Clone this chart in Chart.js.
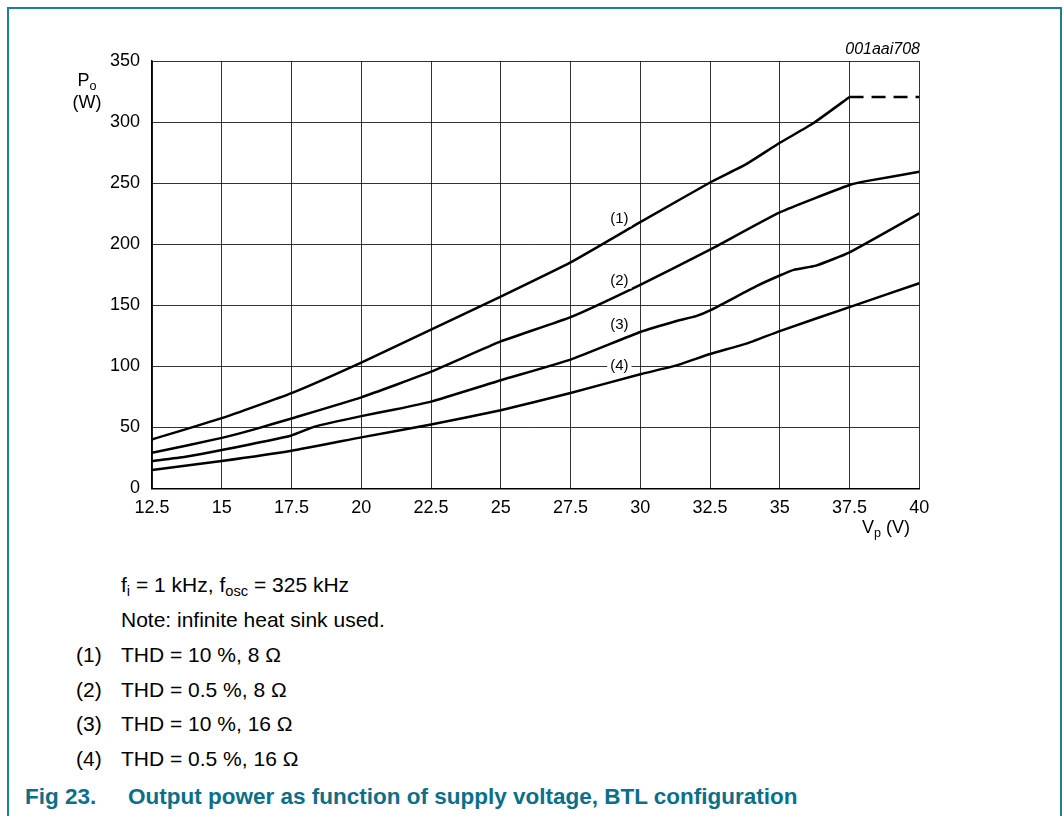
<!DOCTYPE html>
<html>
<head>
<meta charset="utf-8">
<script src="https://cdn.jsdelivr.net/npm/chart.js@4.4.1/dist/chart.umd.min.js"></script>
<style>
  body { margin: 0; background: #fff; font-family: "Liberation Sans", Arial, sans-serif; color: #000; }
  #wrap { position: relative; width: 1063px; height: 816px; overflow: hidden; }
  #frame { position: absolute; left: 7px; top: 7px; width: 1055px; height: 830px; border: 2px solid #1f7f98; border-bottom: none; box-sizing: border-box; }
  canvas { position: absolute; left: 0; top: 0; }
  .t { position: absolute; white-space: nowrap; line-height: 1; }
  .t sub { font-size: 70%; vertical-align: -0.3em; line-height: 0; }
  .note { font-size: 21px; }
  .cap { font-size: 22.5px; font-weight: bold; color: #0c6f88; }
</style>
</head>
<body>
<div id="wrap">
  <div id="frame"></div>
  <canvas id="powerChart" width="1063" height="560"></canvas>

  <div class="t" style="left:70px;width:34px;text-align:center;top:71px;font-size:18px;">P<sub>o</sub></div>
  <div class="t" style="left:70px;width:34px;text-align:center;top:93px;font-size:18px;">(W)</div>
  <div class="t" style="left:862px;top:518px;font-size:18px;">V<sub>p</sub> (V)</div>
  <div class="t" style="right:143px;top:41px;font-size:16px;font-style:italic;">001aai708</div>

  <div class="t note" style="left:121px;top:574px;">f<sub>i</sub> = 1 kHz, f<sub>osc</sub> = 325 kHz</div>
  <div class="t note" style="left:121px;top:609px;">Note: infinite heat sink used.</div>
  <div class="t note" style="left:76px;top:644px;">(1)</div>
  <div class="t note" style="left:121px;top:644px;">THD = 10 %, 8 Ω</div>
  <div class="t note" style="left:76px;top:679px;">(2)</div>
  <div class="t note" style="left:121px;top:679px;">THD = 0.5 %, 8 Ω</div>
  <div class="t note" style="left:76px;top:713px;">(3)</div>
  <div class="t note" style="left:121px;top:713px;">THD = 10 %, 16 Ω</div>
  <div class="t note" style="left:76px;top:748px;">(4)</div>
  <div class="t note" style="left:121px;top:748px;">THD = 0.5 %, 16 Ω</div>

  <div class="t cap" style="left:25px;top:786px;">Fig 23.</div>
  <div class="t cap" style="left:128px;top:786px;">Output power as function of supply voltage, BTL configuration</div>
</div>

<script>
// supply voltage (V) and output power (W)
const vp1 = [12.5, 15, 17.5, 20, 22.5, 25, 27.5, 30, 32.5, 33.8, 35, 36.2, 37.5];
const po1 = [40, 57.5, 78, 103, 130, 157, 185, 218, 250.5, 265.5, 283, 299, 320.5];

// (1) beyond 37.5 V is only dashed
const vp1Dash = [37.5, 40];
const po1Dash = [320.5, 320.5];

const vp2 = [12.5, 15, 16.2, 17.5, 20, 22.5, 25, 27.5, 30, 32.5, 35, 37.5, 38.2, 40];
const po2 = [29, 41.3, 48.5, 57.2, 74.5, 95.5, 120.3, 140.2, 166.7, 195.5, 226, 248.4, 252, 259.2];

const vp3 = [12.5, 13.7, 15, 17.5, 18.3, 20, 21.2, 22.5, 25, 27.5, 30, 31.3, 32, 32.5, 34.2, 35, 35.5, 36.3, 37.5, 40];
const po3 = [22.3, 25.8, 31.3, 43.3, 50.3, 59.1, 64.5, 71, 88.5, 105.4, 128, 137, 141, 145.7, 166, 174.3, 178.9, 182.4, 193.3, 225.2];

const vp4 = [12.5, 15, 17.5, 20, 22.5, 25, 27.5, 30, 31.3, 32.5, 33.8, 35, 37.5, 40];
const po4 = [15, 22.3, 30.7, 41.7, 52.3, 64, 78.1, 93.4, 100.7, 110, 118.5, 128.8, 148.4, 168];

// curve tags inside the plot
const curveLabels = ['(1)', '(2)', '(3)', '(4)'];
const labelVp = [29.25, 29.25, 29.25, 29.25];
const labelPo = [221, 170, 134.2, 100];

const toPoints = (xs, ys) => xs.map((x, i) => ({ x: x, y: ys[i] }));

const lineStyle = {
  borderColor: '#000',
  borderWidth: 2.5,
  pointRadius: 0,
  tension: 0.15,
  fill: false
};

const curveTags = {
  id: 'curveTags',
  afterDatasetsDraw(chart) {
    const ctx = chart.ctx;
    const xs = chart.scales.x;
    const ys = chart.scales.y;
    ctx.save();
    ctx.font = '15px "Liberation Sans", Arial, sans-serif';
    ctx.textAlign = 'center';
    ctx.textBaseline = 'middle';
    curveLabels.forEach((txt, i) => {
      const px = xs.getPixelForValue(labelVp[i]);
      const py = ys.getPixelForValue(labelPo[i]);
      const w = ctx.measureText(txt).width + 6;
      ctx.fillStyle = '#fff';
      ctx.fillRect(px - w / 2, py - 8, w, 16);
      ctx.fillStyle = '#000';
      ctx.fillText(txt, px, py);
    });
    ctx.restore();
  }
};

const ctx = document.getElementById('powerChart').getContext('2d');
new Chart(ctx, {
  type: 'line',
  data: {
    datasets: [
      Object.assign({ data: toPoints(vp1, po1) }, lineStyle),
      Object.assign({ data: toPoints(vp1Dash, po1Dash), borderDash: [14, 8] }, lineStyle, { tension: 0 }),
      Object.assign({ data: toPoints(vp2, po2) }, lineStyle),
      Object.assign({ data: toPoints(vp3, po3) }, lineStyle),
      Object.assign({ data: toPoints(vp4, po4) }, lineStyle)
    ]
  },
  options: {
    responsive: false,
    animation: false,
    layout: { padding: { left: 0, top: 61, right: 143.7, bottom: 31.7 } },
    plugins: {
      legend: { display: false },
      tooltip: { enabled: false }
    },
    scales: {
      x: {
        type: 'linear',
        min: 12.5,
        max: 40,
        afterFit: (s) => { s.height = 40; },
        ticks: {
          stepSize: 2.5,
          padding: 9,
          color: '#000',
          font: { family: '"Liberation Sans", Arial, sans-serif', size: 18 },
          callback: (v) => String(v)
        },
        grid: { color: 'rgba(0,0,0,0.8)', lineWidth: 1, drawTicks: false },
        border: { color: '#000', width: 1.5 }
      },
      y: {
        min: 0,
        max: 350,
        afterFit: (s) => { s.width = 152; },
        ticks: {
          stepSize: 50,
          padding: 12,
          color: '#000',
          font: { family: '"Liberation Sans", Arial, sans-serif', size: 18 }
        },
        grid: { color: 'rgba(0,0,0,0.8)', lineWidth: 1, drawTicks: false },
        border: { color: '#000', width: 1.5 }
      }
    }
  },
  plugins: [curveTags]
});
</script>
</body>
</html>
